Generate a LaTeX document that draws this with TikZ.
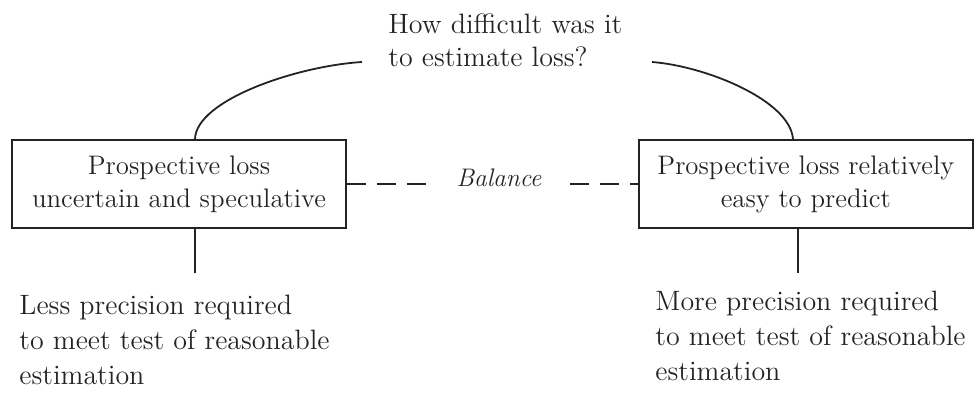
\documentclass[tikz,border=0pt]{standalone}
\usepackage{fontspec}
\usetikzlibrary{positioning}
\definecolor{ink}{RGB}{35,35,35}

\begin{document}
\begin{tikzpicture}
    [x=0.5pt, y=0.5pt,
     every node/.style={text=ink},
     loss box/.style={draw=ink, line width=0.9pt, minimum width=167pt, minimum height=44pt,
                      align=center, font=\fontsize{13.4}{16.5}\selectfont},
     note/.style={align=left, inner sep=0pt, font=\fontsize{14}{17.5}\selectfont},
     link/.style={draw=ink, line width=0.9pt},
     gap line/.style={link, dash pattern=on 9.5pt off 5.5pt}]
    \useasboundingbox (0,0) rectangle (976,397);

    % the two sides
    \node[loss box] (uncertain) at (179,213) {Prospective loss\\uncertain and speculative};
    \node[loss box, right=145.5pt of uncertain] (easy) {Prospective loss relatively\\easy to predict};
    \node[font=\itshape\fontsize{12.7}{15}\selectfont, anchor=base] (balance) at (499,210) {Balance};

    % question and outcomes
    \node[note, anchor=north west, font=\fontsize{14}{16.5}\selectfont] (question) at (388,384)
        {How difficult was it\\to estimate loss?};
    \node[note, anchor=north west] (less) at (19,102)
        {Less precision required\\to meet test of reasonable\\estimation};
    \node[note, anchor=north west] (more) at (655,106)
        {More precision required\\to meet test of reasonable\\estimation};

    \coordinate (lcap) at (362,335);
    \coordinate (rcap) at (652,335);
    \coordinate (ltop) at (195,0);
    \coordinate (rtop) at (793,0);
    \coordinate (lfoot) at (195,124);
    \coordinate (rfoot) at (798,124);

    \draw[link] (lcap) .. controls (297,331) and (196,297) .. (uncertain.north -| ltop);
    \draw[link] (rcap) .. controls (705,331) and (790,297) .. (easy.north -| rtop);
    \draw[gap line, shorten >=12pt] (uncertain.east) -- (uncertain.east -| balance.west);
    \draw[gap line, shorten <=11pt] (easy.west -| balance.east) -- (easy.west);
    \draw[link] (uncertain.south -| lfoot) -- (lfoot);
    \draw[link] (easy.south -| rfoot) -- (rfoot);
\end{tikzpicture}
\end{document}
